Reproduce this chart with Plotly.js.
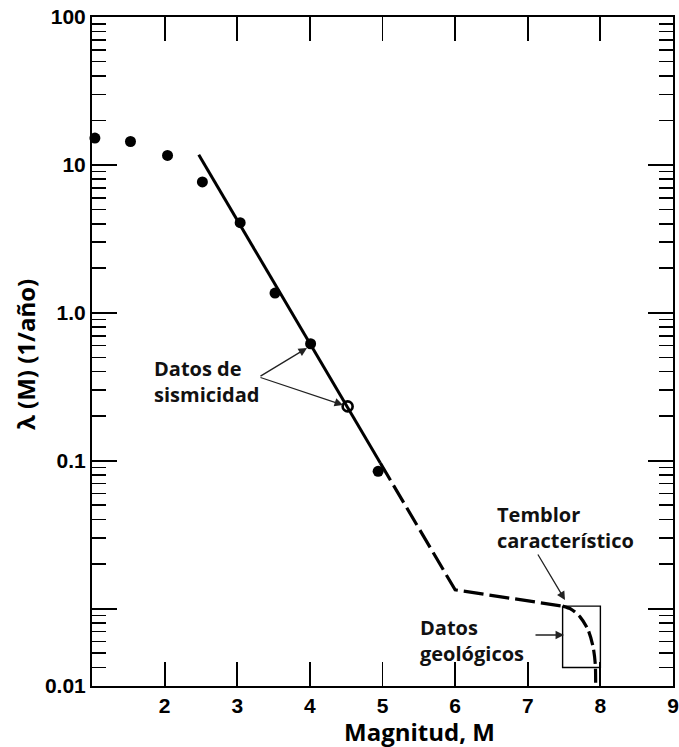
<!DOCTYPE html>
<html>
<head>
<meta charset="utf-8">
<script src="https://cdn.plot.ly/plotly-3.0.1.min.js"></script>
<style>html,body{margin:0;padding:0;background:#fff}</style>
</head>
<body>
<div id="chart" style="width:679px;height:747px"></div>
<script>
// Observed seismicity: magnitude vs. annual rate of exceedance
const magObs = [1.04, 1.53, 2.04, 2.52, 3.04, 3.52, 4.01, 4.94];
const rateObs = [15.2, 14.4, 11.6, 7.67, 4.07, 1.36, 0.618, 0.0848];
// observation drawn as a hollow marker
const magOpen = [4.52];
const rateOpen = [0.233];

// Recurrence fit through the seismicity data (solid part)
const magFit = [2.47, 4.97];
const rateFit = [11.7, 0.0966];
// Extrapolation to larger magnitudes (dashed)
const magExt = [4.97, 6.0, 7.48];
const rateExt = [0.0966, 0.0134, 0.0104];
// Characteristic-earthquake roll-off
const magChar = [7.48, 7.6, 7.72, 7.83, 7.9, 7.93, 7.935];
const rateChar = [0.0104, 0.0099, 0.0088, 0.0072, 0.0055, 0.0042, 0.0029];

// Window covered by geological data
const magBox = [7.48, 8.0, 8.0, 7.48, 7.48];
const rateBox = [0.0104, 0.0104, 0.0040, 0.0040, 0.0104];

// Axis ticks
const xTickVals = [2, 3, 4, 5, 6, 7, 8, 9];
const xTickText = ['2', '3', '4', '5', '6', '7', '8', '9'];
const yTickVals = [0.003, 0.01, 0.1, 1, 10, 100];
const yTickText = ['0.01', '', '0.1', '1.0', '10', '100'];
const yMinorDecades = [0.001, 0.01, 0.1, 1, 10];
const yMinorSteps = [2, 3, 4, 5, 6, 7, 8, 9];

const yMinor = [];
yMinorDecades.forEach(d => yMinorSteps.forEach(s => {
  const v = +(d * s).toPrecision(3);
  if (v > 0.003 && v < 100) yMinor.push(v);
}));

const INK = '#000';
const dashPat = '20px,6px';

const traces = [
  { x: magFit, y: rateFit, mode: 'lines', line: { color: INK, width: 3 }, hoverinfo: 'skip' },
  { x: magExt, y: rateExt, mode: 'lines', line: { color: INK, width: 3.2, dash: dashPat }, hoverinfo: 'skip' },
  { x: magChar, y: rateChar, mode: 'lines', line: { color: INK, width: 3.2, dash: '14px,5px', shape: 'spline', smoothing: 0.8 }, hoverinfo: 'skip' },
  { x: magBox, y: rateBox, mode: 'lines', line: { color: INK, width: 1.4 }, hoverinfo: 'skip' },
  { x: magObs, y: rateObs, mode: 'markers', marker: { color: INK, size: 11 }, cliponaxis: false },
  { x: magOpen, y: rateOpen, mode: 'markers', marker: { symbol: 'circle-open', color: INK, size: 10, line: { width: 2.6, color: INK } } }
];

// pixel -> paper helpers for the plot box (left 92, right 673, top 17, bottom 686)
const L = 92, R = 673, T = 17, B = 686;
const px = x => (x - L) / (R - L);
const py = y => (B - y) / (B - T);

const labelFont = { family: 'Open Sans, sans-serif', size: 20, color: '#111' };

const arrow = (hx, hy, tx, ty) => ({
  xref: 'paper', yref: 'paper', x: px(hx), y: py(hy),
  axref: 'pixel', ayref: 'pixel', ax: tx - hx, ay: ty - hy,
  text: '', showarrow: true, arrowhead: 2, arrowsize: 1.3, arrowwidth: 1.3,
  arrowcolor: '#222', standoff: 0, startstandoff: 0
});

const annotations = [
  { xref: 'paper', yref: 'paper', x: px(152), y: py(382), xanchor: 'left', yanchor: 'middle', align: 'left',
    text: '<b>Datos de<br>sismicidad</b>', showarrow: false, font: labelFont },
  { xref: 'paper', yref: 'paper', x: px(495), y: py(527), xanchor: 'left', yanchor: 'middle', align: 'left',
    text: '<b>Temblor<br>característico</b>', showarrow: false, font: labelFont },
  { xref: 'paper', yref: 'paper', x: px(418), y: py(640), xanchor: 'left', yanchor: 'middle', align: 'left',
    text: '<b>Datos<br>geológicos</b>', showarrow: false, font: labelFont },
  arrow(307, 348, 259, 377),
  arrow(343, 405, 259, 377),
  arrow(565, 600, 537, 553),
  arrow(564, 635, 534, 635),
  { xref: 'paper', yref: 'paper', x: px(419), y: py(731), xanchor: 'center', yanchor: 'middle',
    text: '<b>Magnitud, M</b>', showarrow: false, font: { family: 'Open Sans, sans-serif', size: 24, color: '#000' } },
  { xref: 'paper', yref: 'paper', x: px(25), y: py(355), xanchor: 'center', yanchor: 'middle', textangle: -90,
    text: '<b>λ (M) (1/año)</b>', showarrow: false, font: { family: 'Open Sans, sans-serif', size: 24, color: '#000' } }
];

const tickFont = { family: 'Liberation Sans, Arial, sans-serif', size: 21, color: '#000', weight: 'bold' };

const layout = {
  width: 679, height: 747,
  margin: { l: L, r: 679 - R, t: T, b: 747 - B },
  paper_bgcolor: '#fff', plot_bgcolor: '#fff',
  showlegend: false,
  xaxis: {
    range: [1, 9], tickmode: 'array', tickvals: xTickVals, ticktext: xTickText,
    ticks: 'inside', ticklen: 24, tickwidth: 1.8, tickcolor: INK,
    showline: true, linecolor: INK, linewidth: 2, mirror: 'ticks',
    showgrid: false, zeroline: false, tickfont: tickFont
  },
  yaxis: {
    type: 'log', range: [Math.log10(0.003), 2],
    tickmode: 'array', tickvals: yTickVals, ticktext: yTickText,
    ticks: 'inside', ticklen: 25, tickwidth: 1.8, tickcolor: INK,
    minor: { tickmode: 'array', tickvals: yMinor, ticks: 'inside', ticklen: 14, tickwidth: 1.6, tickcolor: INK, showgrid: false },
    showline: true, linecolor: INK, linewidth: 2, mirror: 'ticks',
    showgrid: false, zeroline: false, tickfont: tickFont
  },
  annotations: annotations
};

Plotly.newPlot('chart', traces, layout, { staticPlot: true, displayModeBar: false });
</script>
</body>
</html>
